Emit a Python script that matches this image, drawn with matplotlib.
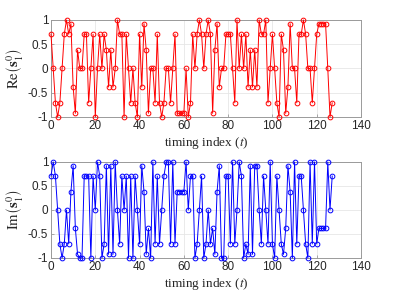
import numpy as np
import matplotlib
matplotlib.use("Agg")
import matplotlib.pyplot as plt

a, b, c = 0.9239, 0.7071, 0.3827

t = list(range(128))

re_vals = [
    b, 0, -b, -1, -b, 0, b, 1, b, a,
    -c, -a, c, 0, 0, b, b, -b, 0, b,
    -1, 0, b, 0, b, c, -c, c, -c, 0,
    1, b, b, -1, b, 0, -b, 0, -b, -1,
    b, -c, a, c, -a, 0, 0, -b, b, -b,
    -1, -b, 0, 0, -b, 0, b, -a, -a, -a,
    -a, 0, -1, -b, b, 0, b, 1, b, 0,
    b, 1, b, -a, c, a, -c, 0, 0, b,
    b, b, 0, -b, 1, 0, b, 0, b, -c,
    c, -c, c, -c, 1, b, b, 1, -b, 0,
    b, 0, -b, -1, b, c, -a, -c, a, 0,
    0, -b, b, b, 1, b, 0, 0, -b, 0,
    b, a, a, a, a, 0, -1, -b,
]

im_vals = [
    b, 1, b, 0, -b, -1, -b, 0, -b, c,
    a, -c, -a, -1, -1, b, b, b, -1, b,
    0, 1, b, -1, -b, a, -a, a, -a, 1,
    0, -b, b, 0, b, -1, b, -1, b, 0,
    -b, a, c, -a, -c, -1, 1, -b, b, -b,
    0, b, 1, 1, -b, 1, -b, c, c, c,
    c, 1, 0, b, b, -1, -b, 0, b, -1,
    -b, 0, -b, -c, -a, c, a, -1, -1, b,
    b, -b, 1, -b, 0, 1, b, -1, -b, -a,
    a, -a, a, a, 0, -b, b, 0, -b, 1,
    -b, -1, b, 0, -b, -a, -c, a, c, -1,
    1, -b, b, b, 0, -b, -1, 1, -b, 1,
    -b, -c, -c, -c, -c, 1, 0, b,
]

x_ticks = [0, 20, 40, 60, 80, 100, 120, 140]
y_ticks = [-1, -0.5, 0, 0.5, 1]
y_ticklabels = ["-1", "-0.5", "0", "0.5", "1"]

plt.rcParams["mathtext.fontset"] = "stix"
plt.rcParams["axes.unicode_minus"] = False

fig = plt.figure(figsize=(3.99, 2.98), dpi=100)
fig.patch.set_facecolor("white")

W, H = 399, 298
def pos(l, t_, r, b_):
    return [l / W, 1 - b_ / H, (r - l) / W, (b_ - t_) / H]

ax1 = fig.add_axes(pos(51, 20, 361, 117))
ax2 = fig.add_axes(pos(51, 162, 361, 258))

specs = [
    (ax1, re_vals, "#ff0000", r"$\mathrm{Re}\left(\mathbf{s}_1^{0}\right)$"),
    (ax2, im_vals, "#0000ff", r"$\mathrm{Im}\left(\mathbf{s}_1^{0}\right)$"),
]

for ax, vals, col, ylab in specs:
    ax.plot(t, vals, color=col, lw=0.7, marker="o", ms=3.4,
            mfc="none", mec=col, mew=0.7, zorder=3, clip_on=False)
    ax.set_xlim(0, 140)
    ax.set_ylim(-1, 1)
    ax.set_xticks(x_ticks)
    ax.set_yticks(y_ticks)
    ax.set_yticklabels(y_ticklabels)
    ax.grid(True, color="#e6e6e6", lw=0.6, zorder=0)
    ax.tick_params(direction="in", length=2.5, width=0.6, colors="#9a9a9a",
                   labelcolor="#262626", labelsize=8.5, pad=2)
    for s in ax.spines.values():
        s.set_color("#9a9a9a")
        s.set_linewidth(0.7)
    for lab in ax.get_xticklabels() + ax.get_yticklabels():
        lab.set_family(["Liberation Sans", "DejaVu Sans"])
    ax.set_xlabel(r"timing index ($t$)", fontsize=9.5, labelpad=2,
                  family=["Liberation Serif", "DejaVu Serif"], color="#262626")
    ax.set_ylabel(ylab, fontsize=10.5, labelpad=2, color="#262626")

fig.savefig("out.png", dpi=100)
